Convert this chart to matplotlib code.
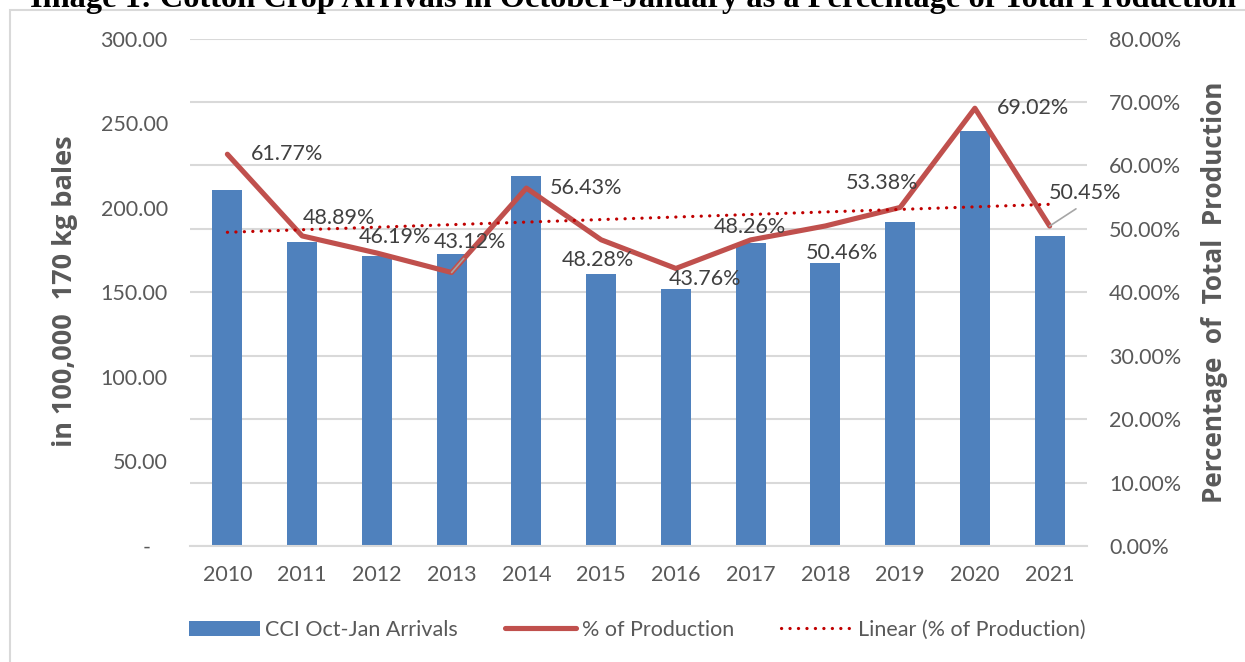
import numpy as np
import matplotlib
matplotlib.use("Agg")
import matplotlib.pyplot as plt
from matplotlib.patches import Rectangle, Patch
from matplotlib.lines import Line2D
from matplotlib.ticker import FuncFormatter, MultipleLocator

plt.rcParams['font.family'] = ['Lato', 'DejaVu Sans']

# ---------------- data ----------------
years = ["2010", "2011", "2012", "2013", "2014", "2015",
         "2016", "2017", "2018", "2019", "2020", "2021"]
arrivals = [210.5, 180.0, 171.7, 172.5, 218.6, 161.0,
            151.8, 179.4, 167.2, 191.4, 245.6, 183.5]
pct_production = [61.77, 48.89, 46.19, 43.12, 56.43, 48.28,
                  43.76, 48.26, 50.46, 53.38, 69.02, 50.45]
label_offsets = [(23, 0), (1, 18), (-18, 16), (-18, 31), (23, 0), (-39, -20),
                 (-7, -11), (-37, 13), (-20, -27), (-54, 24), (22, 0), (-1, 33)]
leader_labels = {3, 11}

title = "Image 1: Cotton Crop Arrivals in October-January as a Percentage of Total Production"
left_label = "in 100,000  170 kg bales"
right_label = "Percentage  of  Total  Production"
legend_labels = ["CCI Oct-Jan Arrivals", "% of Production", "Linear (% of Production)"]

BAR = "#4F81BD"
LINE = "#C0504D"
TREND = "#C00000"
TICK = "#595959"
LAB = "#404040"
GRID = "#D9D9D9"

W, H = 1245, 662
fig = plt.figure(figsize=(W / 100, H / 100), dpi=100)
ax = fig.add_axes([190 / W, (H - 546) / H, (1087 - 190) / W, (546 - 38.6) / H])
ax2 = ax.twinx()

x = np.arange(len(years))
ax.bar(x, arrivals, width=0.4, color=BAR, zorder=2)
ax.set_xlim(-0.5, len(years) - 0.5)
ax.set_ylim(0, 300)
ax.yaxis.set_major_locator(MultipleLocator(50))
ax.yaxis.set_major_formatter(FuncFormatter(lambda v, p: "-   " if v == 0 else f"{v:.2f}"))
ax.set_xticks(x)
ax.set_xticklabels(years)

pct = np.array(pct_production) / 100.0
ax2.set_ylim(0, 0.8)
ax2.yaxis.set_major_locator(MultipleLocator(0.1))
ax2.yaxis.set_major_formatter(FuncFormatter(lambda v, p: f"{v * 100:.2f}%"))
ax2.grid(axis='y', color=GRID, lw=1.5, zorder=0)
ax2.set_axisbelow(True)

ax.set_zorder(ax2.get_zorder() + 1)
ax.patch.set_visible(False)

ax.plot(x, pct, color=LINE, lw=3.7, solid_joinstyle='round', solid_capstyle='round',
        transform=ax2.transData, zorder=3)
coef = np.polyfit(x, pct, 1)
ax.plot(x, np.polyval(coef, x), color=TREND, lw=2.3, linestyle=(0, (0.05, 2.6)),
        dash_capstyle='round', transform=ax2.transData, zorder=4)

for i, (xi, yi) in enumerate(zip(x, pct)):
    dx, dy = label_offsets[i]
    kw = {}
    if i in leader_labels:
        kw['arrowprops'] = dict(arrowstyle='-', color='#A6A6A6', lw=1.2,
                                shrinkA=4, shrinkB=0, relpos=(0.5, 0.0))
    ax.annotate(f"{pct_production[i]:.2f}%", xy=(xi, yi), xycoords=ax2.transData,
                xytext=(dx, dy), textcoords='offset pixels', ha='left', va='center',
                fontsize=15.5, color=LAB, zorder=5, **kw)

for a in (ax, ax2):
    for s in a.spines.values():
        s.set_visible(False)
    a.tick_params(length=0, labelsize=15.5, labelcolor=TICK)
ax.spines['bottom'].set_visible(True)
ax.spines['bottom'].set_color(GRID)
ax.spines['bottom'].set_linewidth(1.5)
ax.tick_params(axis='y', pad=16)
ax2.tick_params(axis='y', pad=16)
ax.tick_params(axis='x', pad=14)

bold_family = ['Open Sans', 'Noto Sans', 'DejaVu Sans']
fig.text(65 / W, 1 - 291 / H, left_label, rotation=90, ha='center', va='center',
         fontsize=19.5, fontweight='bold', color=TICK, family=bold_family)
fig.text(1214 / W, 1 - 292 / H, right_label, rotation=90, ha='center', va='center',
         fontsize=18.8, fontweight='bold', color=TICK, family=bold_family)

fig.text(633.5 / W, 1 - 7 / H, title, ha='center', va='baseline',
         fontsize=23.3, fontweight='bold', family=['Liberation Serif', 'DejaVu Serif'], color='black')

fig.patches.append(Rectangle((10 / W, -0.2), 1.5, 0.2 + (H - 10) / H,
                             transform=fig.transFigure, fill=False,
                             edgecolor=GRID, lw=1.5))

handles = [Patch(facecolor=BAR, edgecolor='none'),
           Line2D([], [], color=LINE, lw=3.7, solid_capstyle='round'),
           Line2D([], [], color=TREND, lw=2.3, linestyle=(0, (0.05, 2.6)), dash_capstyle='round')]
fig.legend(handles, legend_labels, loc='center', bbox_to_anchor=(637 / W, 1 - 630 / H),
           ncol=3, frameon=False, fontsize=15.5, labelcolor=TICK,
           handlelength=3.3, handletextpad=0.25, columnspacing=2.2, handleheight=0.7)

fig.savefig("out.png", dpi=100)
